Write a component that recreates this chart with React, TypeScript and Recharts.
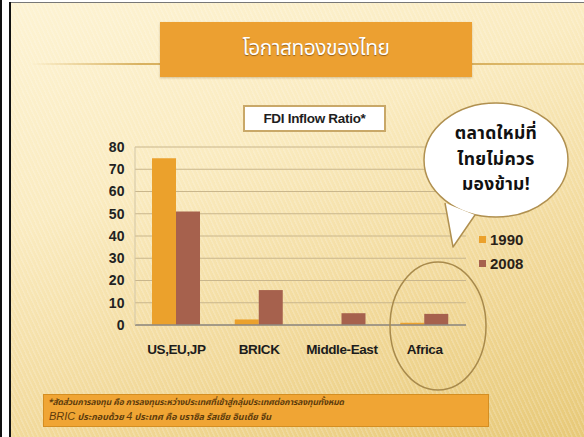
import React from 'react';
import { BarChart, Bar, XAxis, YAxis, CartesianGrid } from 'recharts';

// ── Data ──────────────────────────────────────────────────────────────────────

const categories = ['US,EU,JP', 'BRICK', 'Middle-East', 'Africa'];
const values1990 = [75, 2.5, 0, 1];
const values2008 = [51, 15.7, 5.3, 5];
const yTicks = [0, 10, 20, 30, 40, 50, 60, 70, 80];
const seriesNames = ['1990', '2008'];
const seriesColors = ['#EBA12C', '#A6614D'];

const data = categories.map((name, i) => ({
  name,
  y1990: values1990[i],
  y2008: values2008[i],
}));

const THAI = '"Noto Sans Thai", "Noto Sans Thai UI", Loma, Garuda, "Tlwg Typo", "Noto Sans", sans-serif';
const LATIN = '"Liberation Sans", Arial, sans-serif';

// ── Legend ────────────────────────────────────────────────────────────────────

function SeriesLegend() {
  return (
    <div
      style={{
        position: 'absolute',
        left: 479,
        top: 227,
        fontFamily: LATIN,
        fontWeight: 700,
        fontSize: 15,
        color: '#2a2218',
      }}
    >
      {seriesNames.map((s, i) => (
        <div key={s} style={{ display: 'flex', alignItems: 'center', height: 24 }}>
          <span
            style={{
              width: 7,
              height: 7,
              background: seriesColors[i],
              marginRight: 4,
              display: 'inline-block',
            }}
          />
          {s}
        </div>
      ))}
    </div>
  );
}

// ── Slide ─────────────────────────────────────────────────────────────────────

export default function App() {
  return (
    <div
      style={{
        position: 'absolute',
        left: 0,
        top: 0,
        width: 584,
        height: 437,
        overflow: 'hidden',
        background: '#ffffff',
      }}
    >
      {/* frame lines */}
      <div style={{ position: 'absolute', left: 0, top: 0, width: 2, height: 437, background: '#111' }} />
      <div style={{ position: 'absolute', left: 9, top: 2, width: 2, height: 435, background: '#111' }} />
      <div style={{ position: 'absolute', left: 11, top: 2, width: 573, height: 1, background: '#777' }} />

      {/* slide background */}
      <div
        style={{
          position: 'absolute',
          left: 11,
          top: 3,
          width: 573,
          height: 434,
          background:
            'repeating-linear-gradient(65deg, rgba(255,255,255,0.18) 0px, rgba(255,255,255,0.18) 1px, rgba(255,255,255,0) 2px, rgba(255,255,255,0) 4px), linear-gradient(160deg, #FDF3D3 0%, #FAEBC0 35%, #F1D898 70%, #E7C978 100%)',
        }}
      />

      {/* title line + box */}
      <div
        style={{
          position: 'absolute',
          left: 30,
          top: 63,
          width: 554,
          height: 2,
          background: 'linear-gradient(90deg, rgba(214,170,80,0) 0%, #D8B160 20%, #D8B160 80%, #E2C27A 100%)',
        }}
      />
      <div
        style={{
          position: 'absolute',
          left: 160,
          top: 22,
          width: 312,
          height: 55,
          background: '#ECA031',
          boxShadow: '0 1px 2px rgba(120,80,20,0.3)',
        }}
      />
      <div
        style={{
          position: 'absolute',
          left: 160,
          top: 33,
          width: 312,
          textAlign: 'center',
          fontFamily: THAI,
          fontSize: 21,
          color: '#ffffff',
          textShadow: '0 1px 1px rgba(90,50,10,0.6)',
          letterSpacing: -0.5,
        }}
      >
        โอกาสทองของไทย
      </div>

      {/* chart title box */}
      <div
        style={{
          position: 'absolute',
          left: 243,
          top: 105,
          width: 139,
          height: 23,
          background: '#ffffff',
          border: '2px solid #C9A868',
          fontFamily: LATIN,
          fontWeight: 700,
          fontSize: 13.5,
          color: '#1e1e1e',
          textAlign: 'center',
          lineHeight: '23px',
          letterSpacing: -0.3,
        }}
      >
        FDI Inflow Ratio*
      </div>

      {/* chart */}
      <div style={{ position: 'absolute', left: 0, top: 0 }}>
        <BarChart
          width={584}
          height={437}
          data={data}
          margin={{ top: 147, right: 118, bottom: 82, left: 95 }}
          barGap={0}
          barSize={24}
        >
          <CartesianGrid vertical={false} stroke="#C9B68C" strokeWidth={1} />
          <XAxis
            dataKey="name"
            tickLine={false}
            axisLine={{ stroke: '#8F8A80', strokeWidth: 1.5 }}
            tickMargin={13}
            tick={{ fill: '#1c1c1c', fontSize: 13.5, fontWeight: 700, fontFamily: LATIN, letterSpacing: -0.4 }}
            interval={0}
          />
          <YAxis
            width={40}
            domain={[0, 80]}
            ticks={yTicks}
            interval={0}
            tickLine={false}
            axisLine={{ stroke: '#D2C6A6' }}
            tickMargin={4}
            tick={{ fill: '#222', fontSize: 14, fontWeight: 700, fontFamily: LATIN, letterSpacing: 0.4 }}
          />
          <Bar dataKey="y1990" name={seriesNames[0]} fill={seriesColors[0]} isAnimationActive={false} />
          <Bar dataKey="y2008" name={seriesNames[1]} fill={seriesColors[1]} isAnimationActive={false} />
        </BarChart>
      </div>

      <SeriesLegend />

      {/* speech bubble + Africa highlight */}
      <svg
        width={584}
        height={437}
        style={{ position: 'absolute', left: 0, top: 0, pointerEvents: 'none' }}
      >
        <ellipse cx={496} cy={160} rx={72} ry={57} fill="#ffffff" stroke="#B09050" strokeWidth={1.5} />
        <polygon points="445,203 453,247 475,215" fill="#ffffff" />
        <path
          d="M 445 203 L 453 247 L 475 215"
          fill="none"
          stroke="#B09050"
          strokeWidth={1.5}
          strokeLinejoin="round"
        />
        <ellipse cx={438} cy={326} rx={48} ry={64} fill="none" stroke="#A88A4C" strokeWidth={1.5} />
        <g
          fontFamily={THAI}
          fontWeight={700}
          fontSize={17.5}
          fill="#111"
          textAnchor="middle"
          letterSpacing={0.3}
        >
          <text x={496} y={139}>ตลาดใหม่ที่</text>
          <text x={496} y={165}>ไทยไม่ควร</text>
          <text x={496} y={190}>มองข้าม!</text>
        </g>
      </svg>

      {/* footnote */}
      <div
        style={{
          position: 'absolute',
          left: 43,
          top: 394,
          width: 444,
          height: 31,
          background: '#F0A534',
          border: '1px solid #D48E22',
          fontStyle: 'italic',
          fontWeight: 700,
          color: '#5E3C0C',
          fontFamily: THAI,
        }}
      >
        <div style={{ position: 'absolute', left: 4, top: 1, fontSize: 8.5, whiteSpace: 'nowrap', letterSpacing: -0.1 }}>
          *สัดส่วนการลงทุน คือ การลงทุนระหว่างประเทศที่เข้าสู่กลุ่มประเทศต่อการลงทุนทั้งหมด
        </div>
        <div style={{ position: 'absolute', left: 5, top: 15, fontSize: 9, whiteSpace: 'nowrap' }}>
          <span style={{ fontFamily: LATIN, fontSize: 11, fontWeight: 400 }}>BRIC</span> ประกอบด้วย{' '}
          <span style={{ fontFamily: LATIN, fontSize: 11, fontWeight: 400 }}>4</span> ประเทศ คือ บราซิล รัสเซีย อินเดีย จีน
        </div>
      </div>
    </div>
  );
}
